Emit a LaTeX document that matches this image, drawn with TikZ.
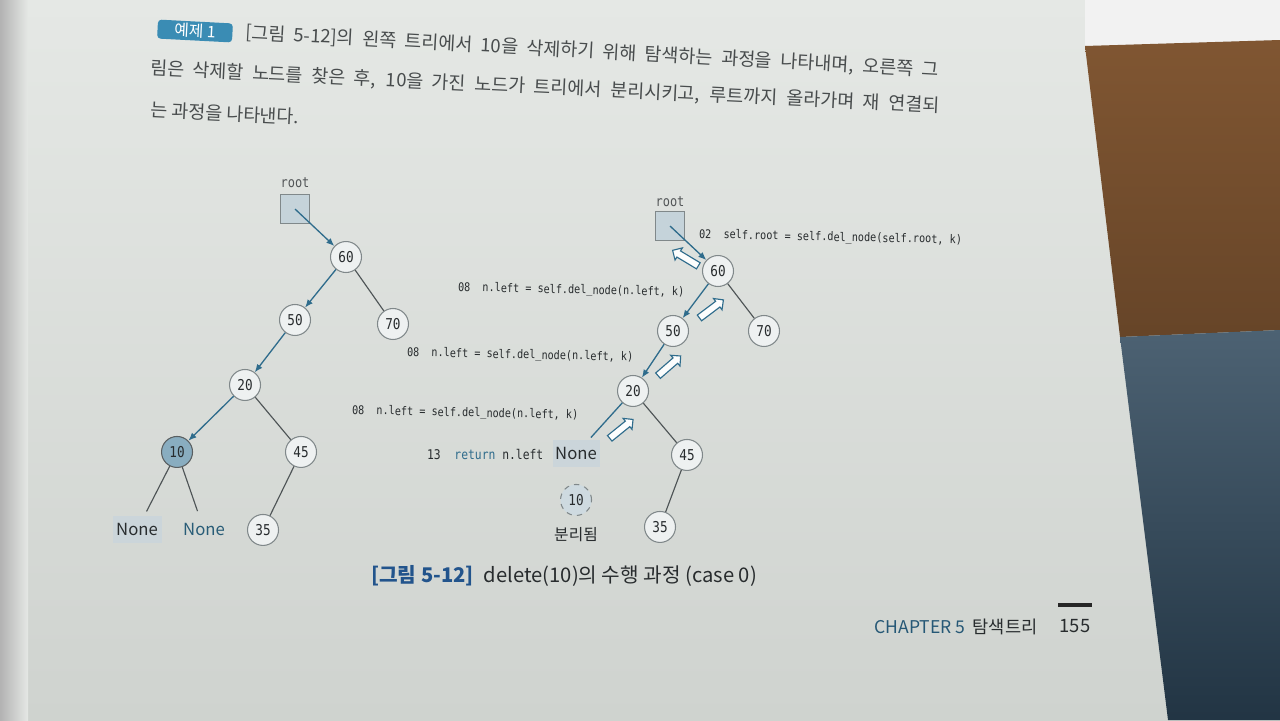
\documentclass[tikz,border=0pt]{standalone}
\usepackage{fontspec}
\usepackage{xcolor}
\usepackage{tikz}
\usetikzlibrary{positioning,arrows.meta,shapes.arrows}
\setmainfont{Noto Sans CJK KR}
\newfontfamily\codefont[FakeStretch=0.85]{DejaVu Sans Mono}
\definecolor{pagetop}{RGB}{229,232,229}
\definecolor{pagebot}{RGB}{207,211,207}
\definecolor{edgeblue}{RGB}{47,108,140}
\definecolor{linegray}{RGB}{78,84,86}
\definecolor{ringgray}{RGB}{128,136,138}
\definecolor{nodefill}{RGB}{238,241,241}
\definecolor{hitfill}{RGB}{137,173,192}
\definecolor{nonefill}{RGB}{203,213,218}
\definecolor{boxfill}{RGB}{197,211,218}
\definecolor{inkdark}{RGB}{40,44,46}
\definecolor{tagblue}{RGB}{58,140,180}
\definecolor{capblue}{RGB}{34,84,140}
\definecolor{chapblue}{RGB}{38,88,118}
\definecolor{wood}{RGB}{128,86,50}
\definecolor{cloth}{RGB}{45,70,90}

\begin{document}
\begin{tikzpicture}[x=0.02cm, y=-0.02cm, on grid, every node/.style={text=inkdark}]
    \tikzstyle{nd}=[circle, draw=ringgray, fill=nodefill, line width=0.6pt, minimum size=0.62cm, inner sep=0pt, font=\codefont\fontsize{8.5}{9}\selectfont]
    \tikzstyle{hit}=[nd, fill=hitfill, draw=ringgray!70!black]
    \tikzstyle{gone}=[nd, fill=boxfill!85!white, dashed]
    \tikzstyle{rootbox}=[rectangle, draw=ringgray, fill=boxfill, line width=0.5pt, minimum size=0.58cm, inner sep=0pt]
    \tikzstyle{lbl}=[font=\codefont\fontsize{8}{9}\selectfont, text=inkdark!80]
    \tikzstyle{nonebox}=[rectangle, fill=nonefill, minimum width=0.98cm, minimum height=0.54cm, inner sep=0pt, font=\fontsize{9.5}{10}\selectfont]
    \tikzstyle{nonetxt}=[nonebox, fill=none, text=edgeblue!85!black]
    \tikzstyle{arr}=[-{Latex[length=1.6mm, width=1.3mm]}, draw=edgeblue, line width=0.75pt]
    \tikzstyle{ln}=[draw=linegray, line width=0.65pt]
    \tikzstyle{harrow}=[single arrow, draw=edgeblue, fill=white!85!nodefill, line width=0.65pt, minimum height=0.6cm, single arrow head extend=0.07cm, inner sep=0.06cm]
    \tikzstyle{code}=[font=\codefont\fontsize{6.8}{8}\selectfont, inner sep=1pt, anchor=west, rotate=-1.2]
    \tikzstyle{para}=[font=\fontsize{10.5}{12}\selectfont, text=inkdark!85, inner sep=0pt, anchor=west]

    % photo background: page, table and cloth
    \useasboundingbox (0,0) rectangle (1280,720);
    \shade[top color=pagetop, bottom color=pagebot] (0,0) rectangle (1280,720);
    \shade[left color=gray!60, right color=pagetop] (0,0) rectangle (28,720);
    \fill[white!90!gray] (1085,0) -- (1280,0) -- (1280,40) -- (1085,46) -- cycle;
    \shade[top color=wood, bottom color=wood!80!black] (1085,46) -- (1280,40) -- (1280,330) -- (1120,337) -- cycle;
    \shade[top color=cloth!85!white, bottom color=cloth!75!black] (1120,337) -- (1280,330) -- (1280,720) -- (1168,720) -- cycle;

    % example text
    \node[rectangle, rounded corners=2pt, fill=tagblue, text=white, minimum width=1.5cm, minimum height=0.38cm, inner sep=0pt, font=\fontsize{9}{10}\selectfont, rotate=-3] (tag) at (195,31) {예제 1};
    \node[para, rotate=-3.1] (line1) at (245,33) {\makebox[13.9cm][s]{[그림 5-12]의 왼쪽 트리에서 10을 삭제하기 위해 탐색하는 과정을 나타내며, 오른쪽 그}};
    \node[para, rotate=-2.7] (line2) at (150,69) {\makebox[15.8cm][s]{림은 삭제할 노드를 찾은 후, 10을 가진 노드가 트리에서 분리시키고, 루트까지 올라가며 재 연결되}};
    \node[para, rotate=-2.7] (line3) at (150,110) {는 과정을 나타낸다.};

    % left tree
    \node[nd] (l60) at (346,257) {60};
    \node[rootbox, above left=0.96cm and 1.02cm of l60] (lroot) {};
    \node[lbl, above=0.52cm of lroot] (lrootlbl) {root};
    \node[nd, below left=1.26cm and 1.02cm of l60] (l50) {50};
    \node[nd, below right=1.34cm and 0.94cm of l60] (l70) {70};
    \node[nd, below left=1.30cm and 1.0cm of l50] (l20) {20};
    \node[hit, below left=1.34cm and 1.36cm of l20] (l10) {10};
    \node[nd, below right=1.34cm and 1.12cm of l20] (l45) {45};
    \node[nonebox, below left=1.56cm and 0.80cm of l10] (lnone1) {None};
    \node[nonetxt, below right=1.56cm and 0.54cm of l10] (lnone2) {None};
    \node[nd, below left=1.56cm and 0.76cm of l45] (l35) {35};
    \draw[arr] (lroot.center) -- (l60);
    \draw[arr] (l60) -- (l50);
    \draw[ln] (l60) -- (l70);
    \draw[arr] (l50) -- (l20);
    \draw[arr] (l20) -- (l10);
    \draw[ln] (l20) -- (l45);
    \draw[ln, shorten >=3pt] (l10) -- (lnone1);
    \draw[ln, shorten >=3pt] (l10) -- (lnone2);
    \draw[ln] (l45) -- (l35);

    % right tree
    \node[nd] (r60) at (718,271) {60};
    \node[rootbox, above left=0.90cm and 0.96cm of r60] (rroot) {};
    \node[lbl, above=0.48cm of rroot] (rrootlbl) {root};
    \node[nd, below left=1.2cm and 0.9cm of r60] (r50) {50};
    \node[nd, below right=1.2cm and 0.92cm of r60] (r70) {70};
    \node[nd, below left=1.2cm and 0.8cm of r50] (r20) {20};
    \node[nonebox, minimum width=0.94cm, below left=1.26cm and 1.14cm of r20] (rnone) {None};
    \node[nd, below right=1.28cm and 1.08cm of r20] (r45) {45};
    \node[nd, below left=1.44cm and 0.54cm of r45] (r35) {35};
    \node[gone, below=0.92cm of rnone] (r10) {10};
    \node[font=\fontsize{9}{10}\selectfont, below=0.7cm of r10] (sep) {분리됨};
    \draw[arr] (rroot.center) -- (r60);
    \draw[arr] (r60) -- (r50);
    \draw[ln] (r60) -- (r70);
    \draw[arr] (r50) -- (r20);
    \draw[draw=edgeblue, line width=0.75pt, shorten >=2pt] (r20) -- (rnone);
    \draw[ln] (r20) -- (r45);
    \draw[ln] (r45) -- (r35);
    \node[harrow, rotate=149] (up0) at (687,259) {};
    \node[harrow, rotate=37] (up1) at (710,310) {};
    \node[harrow, rotate=41] (up2) at (668,367) {};
    \node[harrow, rotate=39] (up3) at (620,430) {};

    % code lines
    \node[code] (c02) at (697,235) {02\ \ self.root = self.del\_node(self.root, k)};
    \node[code] (c08a) at (456,288) {08\ \ n.left = self.del\_node(n.left, k)};
    \node[code] (c08b) at (405,353) {08\ \ n.left = self.del\_node(n.left, k)};
    \node[code] (c08c) at (350,411) {08\ \ n.left = self.del\_node(n.left, k)};
    \node[code, rotate=1.2, font=\codefont\fontsize{7.6}{9}\selectfont] (c13) at (425,454) {13\ \ \textcolor{edgeblue}{return} n.left};

    % caption and footer
    \node[font=\fontsize{11.5}{13}\selectfont] (cap) at (564,576) {\textcolor{capblue}{\textbf{[그림 5-12]}}\hspace{0.5em}delete(10)의 수행 과정 (case 0)};
    \node[font=\fontsize{10}{12}\selectfont] (chap) at (956,627) {\textcolor{chapblue}{CHAPTER 5}\hspace{0.4em}탐색트리};
    \node[font=\fontsize{10.5}{12}\selectfont] (pg) at (1075,626) {155};
    \draw[line width=2.2pt, black!85] (1058,605) -- (1092,605);
\end{tikzpicture}
\end{document}
